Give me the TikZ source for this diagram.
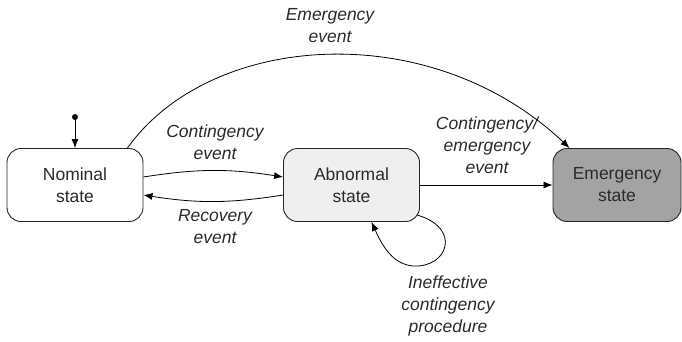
\documentclass[tikz,border=0pt]{standalone}
\usepackage{fontspec}
\setmainfont{Liberation Sans}
\usetikzlibrary{arrows.meta,calc}
\definecolor{abnfill}{HTML}{EFEFEF}
\definecolor{emgfill}{HTML}{A3A3A3}
\definecolor{txt}{HTML}{2A2A2A}
\begin{document}
\begin{tikzpicture}[x=1pt,y=-1pt,
  font=\fontsize{17.5}{22}\selectfont,
  statebox/.style={draw=black!85, line width=0.9pt, rounded corners=14pt,
    minimum width=136pt, minimum height=73pt, align=center, text=txt,
    inner sep=0pt},
  lbl/.style={align=center, text=txt, font=\fontsize{17.5}{22}\selectfont\itshape},
  tr/.style={draw=black, line width=0.8pt,
    -{Latex[length=9pt,width=7pt]}}]
  \useasboundingbox (0,0) rectangle (682,341);

  % states
  \node[statebox, fill=white]   (nom) at (75,185)    {Nominal\\state};
  \node[statebox, fill=abnfill] (abn) at (351.5,185) {Abnormal\\state};
  \node[statebox, fill=emgfill, minimum width=128pt] (emg) at (617,185) {Emergency\\state};

  % initial pseudo-state
  \fill (75,117) circle (3pt) coordinate (init);
  \draw[tr] (init) -- (nom.north);

  % nominal <-> abnormal
  \draw[tr] ($(nom.east)+(0,-8)$) to[bend left=9] ($(abn.west)+(0,-8)$);
  \draw[tr] ($(abn.west)+(0,10)$) to[bend left=9] ($(nom.east)+(0,10)$);
  \node[lbl] (lc) at (215,142) {Contingency\\event};
  \node[lbl] (lr) at (215,227) {Recovery\\event};

  % abnormal -> emergency
  \draw[tr] (abn.east) -- (emg.west);
  \node[lbl] (lce) at (487,145) {Contingency/\\emergency\\event};

  % nominal -> emergency (direct)
  \coordinate (es) at ($(nom.north east)+(-16,0)$);
  \coordinate (ee) at ($(emg.north west)+(17,0)$);
  \draw[tr] (es) .. controls (210,32) and (430,16) .. (ee);
  \node[lbl] (le) at (330,26) {Emergency\\event};

  % self loop on abnormal
  \coordinate (ls) at ($(abn.south east)+(-3,-7)$);
  \coordinate (le2) at ($(abn.south)+(20,0)$);
  \draw[tr] (ls) .. controls (462,228) and (448,268) .. (413,266)
             .. controls (392,264) and (382,245) .. (le2);
  \node[lbl] (li) at (448,306) {Ineffective\\contingency\\procedure};
\end{tikzpicture}
\end{document}
